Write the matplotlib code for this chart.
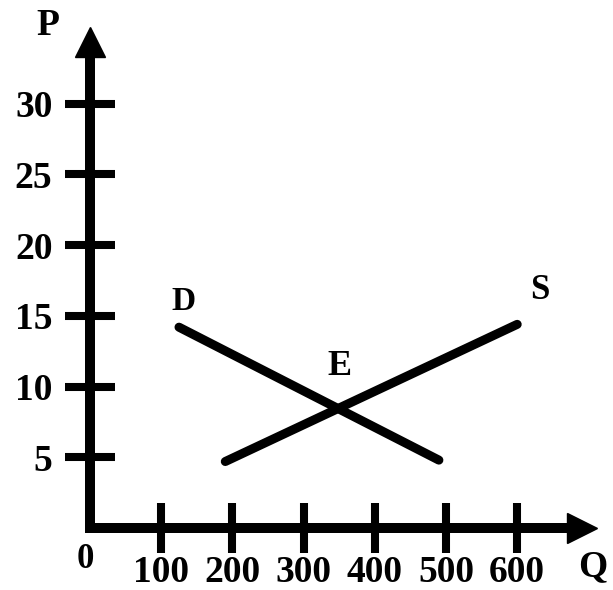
import matplotlib
matplotlib.use("Agg")
import matplotlib.pyplot as plt

# Data
y_ticks = [5, 10, 15, 20, 25, 30]
y_labels = ["5", "10", "15", "20", "25", "30"]
x_ticks = [100, 200, 300, 400, 500, 600]
x_labels = ["100", "200", "300", "400", "500", "600"]

demand_q = [125, 490]
demand_p = [14.2, 4.8]
supply_q = [190, 600]
supply_p = [4.7, 14.4]

W, H = 613, 590
DPI = 100
fig = plt.figure(figsize=(W / DPI, H / DPI), dpi=DPI)
ax = fig.add_axes([90 / W, 62 / H, (582 - 90) / W, (528 - 41.5) / H])
ax.set_xlim(0, 691)
ax.set_ylim(0, 34.4)

font = "Liberation Serif"
lw_axis = 7.2

for s in ["top", "right"]:
    ax.spines[s].set_visible(False)
for s in ["left", "bottom"]:
    ax.spines[s].set_linewidth(lw_axis)
    ax.spines[s].set_capstyle("projecting")

ax.set_xticks(x_ticks)
ax.set_xticklabels(x_labels, fontfamily=font, fontsize=27, fontweight="bold")
ax.set_yticks(y_ticks)
ax.set_yticklabels(y_labels, fontfamily=font, fontsize=27, fontweight="bold")
ax.tick_params(axis="both", direction="inout", length=36, width=5.8, color="black")
ax.tick_params(axis="x", pad=1.5)
ax.tick_params(axis="y", pad=9)

# axis arrowheads
ax.plot(1, 0, ">", color="black", markersize=21, transform=ax.transAxes, clip_on=False)
ax.plot(0, 1, "^", color="black", markersize=22, transform=ax.transAxes, clip_on=False)

ax.plot(demand_q, demand_p, color="black", lw=6.5, solid_capstyle="round", clip_on=False)
ax.plot(supply_q, supply_p, color="black", lw=6.5, solid_capstyle="round", clip_on=False)

tkw = dict(fontfamily=font, fontweight="bold", ha="center", va="center", clip_on=False)
ax.text(-59, 35.5, "P", fontsize=27, **tkw)
ax.text(706, -2.76, "Q", fontsize=27, **tkw)
ax.text(-7, -2.26, "0", fontsize=25, **tkw)
ax.text(131, 16.0, "D", fontsize=24, **tkw)
ax.text(632, 16.8, "S", fontsize=25, **tkw)
ax.text(350, 11.4, "E", fontsize=26, **tkw)

fig.savefig("out.png", dpi=DPI)
